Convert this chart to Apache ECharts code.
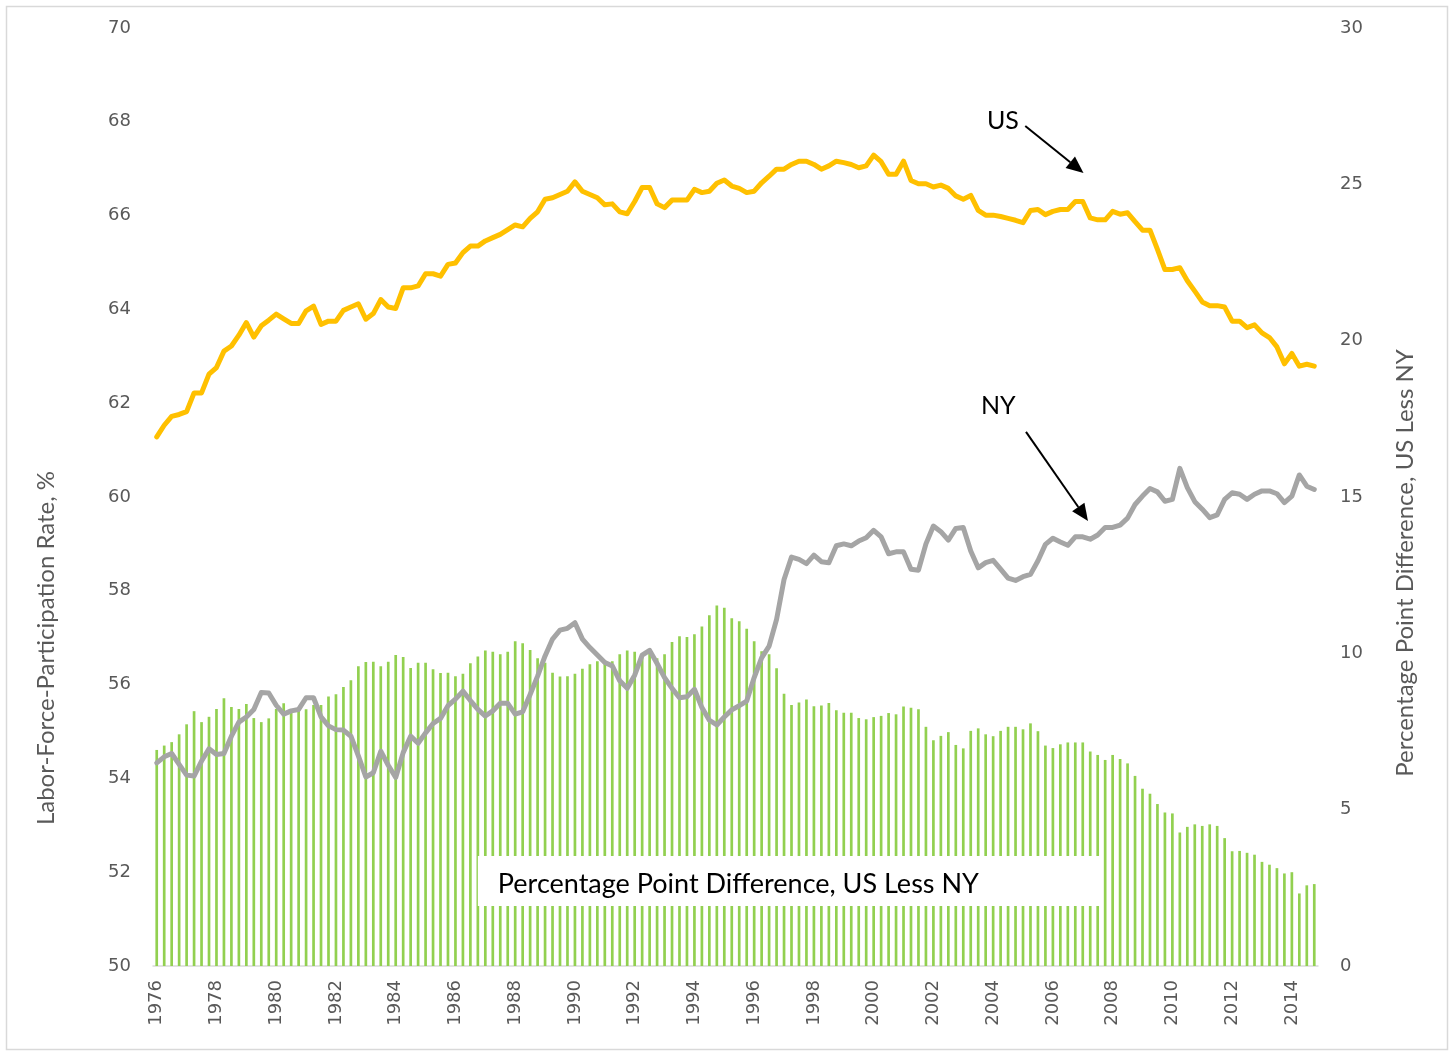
<!DOCTYPE html>
<html>
<head>
<meta charset="utf-8">
<style>
html,body{margin:0;padding:0;background:#fff;}
#c{width:1450px;height:1051px;}
</style>
<script src="https://cdn.jsdelivr.net/npm/echarts@6/dist/echarts.min.js"></script>
</head>
<body>
<div id="c"></div>
<script>
// ---- categories (quarterly, 1976 Q1 .. 2014 Q4) ----
const years = [1976,1977,1978,1979,1980,1981,1982,1983,1984,1985,1986,1987,1988,1989,1990,1991,1992,1993,1994,1995,
  1996,1997,1998,1999,2000,2001,2002,2003,2004,2005,2006,2007,2008,2009,2010,2011,2012,2013,2014];
const quarters = ['Q1','Q2','Q3','Q4'];
const categories = [];
years.forEach(function (y) { quarters.forEach(function (q) { categories.push(y + ' ' + q); }); });

// ---- US labor-force-participation rate, % (left axis) ----
const usRate = [
  61.28,61.53,61.72,61.76,61.82,62.22,62.22,62.62,62.76,63.11,
  63.22,63.45,63.72,63.41,63.65,63.77,63.90,63.80,63.70,63.70,
  63.97,64.07,63.68,63.75,63.75,63.98,64.05,64.12,63.79,63.91,
  64.21,64.05,64.02,64.46,64.46,64.50,64.76,64.76,64.71,64.96,
  64.99,65.21,65.35,65.35,65.46,65.53,65.60,65.70,65.80,65.76,
  65.94,66.08,66.35,66.38,66.45,66.52,66.72,66.52,66.45,66.38,
  66.23,66.25,66.08,66.04,66.30,66.60,66.60,66.25,66.17,66.33,
  66.33,66.33,66.56,66.49,66.52,66.69,66.76,66.63,66.58,
  66.49,66.52,66.70,66.84,66.99,66.99,67.09,67.16,67.16,67.09,
  66.99,67.06,67.16,67.13,67.09,67.02,67.06,67.29,67.15,66.88,
  66.88,67.16,66.75,66.68,66.68,66.61,66.65,66.58,66.42,66.35,
  66.43,66.11,66.01,66.01,65.98,65.94,65.90,65.85,66.11,
  66.13,66.02,66.09,66.13,66.13,66.30,66.30,65.95,65.91,65.91,
  66.09,66.03,66.06,65.87,65.69,65.69,65.28,64.85,64.85,64.89,
  64.61,64.39,64.16,64.08,64.08,64.05,63.75,63.75,63.61,63.67,
  63.50,63.40,63.20,62.84,63.06,62.79,62.83,62.79
];

// ---- NY labor-force-participation rate, % (left axis) ----
const nyRate = [
  54.33,54.46,54.53,54.30,54.07,54.05,54.37,54.63,54.51,54.53,
  54.90,55.20,55.31,55.47,55.83,55.82,55.56,55.37,55.44,55.47,
  55.72,55.72,55.31,55.12,55.04,55.03,54.90,54.48,54.03,54.12,
  54.58,54.28,54.02,54.55,54.90,54.75,54.97,55.17,55.28,55.55,
  55.69,55.86,55.66,55.47,55.33,55.44,55.60,55.60,55.37,55.42,
  55.79,56.18,56.61,56.97,57.16,57.20,57.32,56.97,56.79,56.63,
  56.47,56.40,56.08,55.92,56.20,56.63,56.73,56.45,56.15,55.92,
  55.72,55.74,55.90,55.51,55.24,55.14,55.31,55.46,55.55,
  55.65,56.15,56.57,56.82,57.39,58.24,58.72,58.67,58.58,58.76,
  58.62,58.60,58.96,59.00,58.96,59.06,59.13,59.29,59.15,58.79,
  58.83,58.83,58.46,58.44,59.00,59.38,59.26,59.08,59.33,59.35,
  58.85,58.49,58.60,58.65,58.46,58.27,58.22,58.30,58.35,
  58.64,58.99,59.12,59.04,58.97,59.15,59.15,59.10,59.19,59.35,
  59.35,59.40,59.55,59.84,60.02,60.18,60.11,59.91,59.95,60.61,
  60.20,59.90,59.74,59.56,59.62,59.95,60.09,60.06,59.95,60.06,
  60.13,60.13,60.07,59.88,60.02,60.47,60.23,60.16
];

// ---- Percentage point difference, US less NY (right axis) ----
const diffUSLessNY = [
  6.91,7.05,7.16,7.41,7.73,8.15,7.80,7.97,8.22,8.56,
  8.28,8.22,8.38,7.93,7.80,7.92,8.22,8.40,8.21,8.23,
  8.21,8.35,8.35,8.62,8.69,8.92,9.14,9.59,9.72,9.73,
  9.59,9.73,9.95,9.88,9.53,9.70,9.70,9.49,9.37,9.38,
  9.27,9.35,9.68,9.90,10.09,10.05,9.97,10.05,10.39,10.32,
  10.11,9.84,9.70,9.38,9.26,9.27,9.35,9.51,9.65,9.75,
  9.78,9.75,9.97,10.09,10.05,9.95,10.07,9.84,9.97,10.36,
  10.55,10.52,10.61,10.86,11.22,11.53,11.46,11.12,11.03,
  10.79,10.39,10.07,9.97,9.52,8.71,8.35,8.43,8.52,8.31,
  8.33,8.41,8.18,8.10,8.10,7.93,7.89,7.96,8.00,8.09,
  8.05,8.30,8.26,8.21,7.65,7.22,7.36,7.48,7.07,6.96,
  7.52,7.60,7.41,7.35,7.52,7.65,7.65,7.57,7.76,
  7.51,7.05,6.97,7.09,7.15,7.15,7.15,6.86,6.75,6.59,
  6.75,6.62,6.48,6.08,5.67,5.51,5.18,4.91,4.88,4.27,
  4.45,4.53,4.48,4.53,4.48,4.09,3.67,3.68,3.62,3.56,
  3.33,3.24,3.13,2.96,3.00,2.32,2.58,2.62
];

const GRAY = '#595959';
const TICK_FONT = 'DejaVu Sans';
const TEXT_FONT = 'Lato, "Noto Sans", sans-serif';

const chart = echarts.init(document.getElementById('c'), null, {renderer: 'canvas'});

const option = {
  animation: false,
  backgroundColor: '#ffffff',
  grid: {left: 153, right: 132, top: 28, bottom: 85, containLabel: false},
  xAxis: {
    type: 'category',
    data: categories,
    boundaryGap: true,
    axisLine: {show: true, lineStyle: {color: '#d9d9d9', width: 1.5}},
    axisTick: {show: false},
    axisLabel: {
      interval: 7,
      rotate: 90,
      margin: 14,
      color: GRAY,
      fontSize: 18,
      fontFamily: TICK_FONT,
      formatter: function (v) { return v.slice(0, 4); }
    },
    splitLine: {show: false}
  },
  yAxis: [
    {
      type: 'value', min: 50, max: 70, interval: 2, position: 'left',
      axisLine: {show: false}, axisTick: {show: false}, splitLine: {show: false},
      axisLabel: {color: GRAY, fontSize: 18, fontFamily: TICK_FONT, margin: 22},
      name: 'Labor-Force-Participation Rate, %',
      nameLocation: 'middle', nameGap: 95,
      nameTextStyle: {color: GRAY, fontSize: 24, fontFamily: TEXT_FONT, padding: [0, 302, 0, 0]}
    },
    {
      type: 'value', min: 0, max: 30, interval: 5, position: 'right',
      axisLine: {show: false}, axisTick: {show: false}, splitLine: {show: false},
      axisLabel: {color: GRAY, fontSize: 18, fontFamily: TICK_FONT, margin: 22},
      name: 'Percentage Point Difference, US Less NY',
      nameLocation: 'middle', nameGap: 75,
      nameTextStyle: {color: GRAY, fontSize: 24, fontFamily: TEXT_FONT, padding: [0, 132, 0, 0]}
    }
  ],
  series: [
    {
      name: 'Percentage Point Difference, US Less NY',
      type: 'bar', yAxisIndex: 1, data: diffUSLessNY,
      barWidth: '36%', z: 1,
      itemStyle: {color: '#92D050'}
    },
    {
      name: 'US', type: 'line', yAxisIndex: 0, data: usRate,
      symbol: 'none', z: 3,
      lineStyle: {color: '#FFC000', width: 5, cap: 'round', join: 'round'}
    },
    {
      name: 'NY', type: 'line', yAxisIndex: 0, data: nyRate,
      symbol: 'none', z: 3,
      lineStyle: {color: '#A5A5A5', width: 5, cap: 'round', join: 'round'}
    }
  ]
};
chart.setOption(option);

// ---- annotations, anchored in data space (category index, axis value) ----
const labelNotes = [
  {text: 'US', at: [113.3, 68.02]},
  {text: 'NY', at: [112.7, 61.94]}
];
const arrowNotes = [
  {from: [116.3, 67.91], to: [124.1, 66.91]},
  {from: [116.4, 61.39], to: [124.7, 59.49]}
];
const textBox = {text: 'Percentage Point Difference, US Less NY', from: [43.0, 3.52], to: [126.7, 1.92]};

function toPx(i, v, yIdx) {
  const x0 = chart.convertToPixel({xAxisIndex: 0}, categories[0]);
  const x1 = chart.convertToPixel({xAxisIndex: 0}, categories[1]);
  const y = chart.convertToPixel({yAxisIndex: yIdx}, v);
  return [x0 + (x1 - x0) * i, y];
}

const graphics = [];
// chart-area border
graphics.push({
  type: 'rect', left: 4, top: 4, z: 0, silent: true,
  shape: {width: 1441, height: 1043},
  style: {fill: 'none', stroke: '#d9d9d9', lineWidth: 1.5}
});
// text box over the bars
(function () {
  const a = toPx(textBox.from[0], textBox.from[1], 1);
  const b = toPx(textBox.to[0], textBox.to[1], 1);
  graphics.push({
    type: 'rect', z: 50, silent: true,
    shape: {x: a[0], y: a[1], width: b[0] - a[0], height: b[1] - a[1]},
    style: {fill: '#ffffff'}
  });
  graphics.push({
    type: 'text', z: 51, silent: true,
    x: a[0] + 20, y: (a[1] + b[1]) / 2 + 3,
    style: {text: textBox.text, fill: '#000000', font: '27px ' + TEXT_FONT, textVerticalAlign: 'middle', textAlign: 'left'}
  });
})();
labelNotes.forEach(function (n) {
  const p = toPx(n.at[0], n.at[1], 0);
  graphics.push({
    type: 'text', z: 60, silent: true, x: p[0], y: p[1],
    style: {text: n.text, fill: '#000000', font: '25px ' + TEXT_FONT, textAlign: 'center', textVerticalAlign: 'middle'}
  });
});
arrowNotes.forEach(function (n) {
  const s = toPx(n.from[0], n.from[1], 0);
  const t = toPx(n.to[0], n.to[1], 0);
  const dx = t[0] - s[0], dy = t[1] - s[1];
  const len = Math.sqrt(dx * dx + dy * dy);
  const ux = dx / len, uy = dy / len;
  const L = 17, W = 15;
  const bx = t[0] - ux * L, by = t[1] - uy * L;
  graphics.push({
    type: 'line', z: 60, silent: true,
    shape: {x1: s[0], y1: s[1], x2: bx, y2: by},
    style: {stroke: '#000000', lineWidth: 2}
  });
  graphics.push({
    type: 'polygon', z: 60, silent: true,
    shape: {points: [[t[0], t[1]], [bx - uy * W / 2, by + ux * W / 2], [bx + uy * W / 2, by - ux * W / 2]]},
    style: {fill: '#000000'}
  });
});
chart.setOption({graphic: graphics});
</script>
</body>
</html>
